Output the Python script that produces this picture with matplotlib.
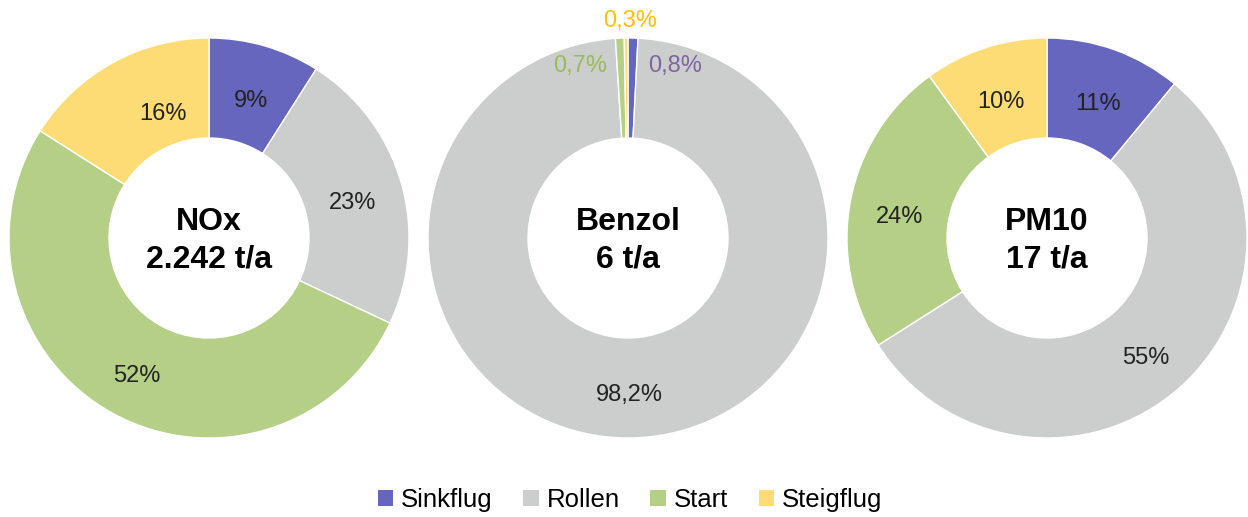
import matplotlib
matplotlib.use("Agg")
import matplotlib.pyplot as plt
from matplotlib.patches import Patch
import numpy as np

plt.rcParams['font.family'] = ['Liberation Sans', 'DejaVu Sans']

categories = ["Sinkflug", "Rollen", "Start", "Steigflug"]
colors = ["#6766BE", "#CCCECE", "#B5CF86", "#FEDC75"]

titles = ["NOx\n2.242 t/a", "Benzol\n6 t/a", "PM10\n17 t/a"]
nox = [9, 23, 52, 16]
benzol = [0.8, 98.2, 0.7, 0.3]
pm10 = [11, 55, 24, 10]
nox_labels = ["9%", "23%", "52%", "16%"]
benzol_labels = ["0,8%", "98,2%", "0,7%", "0,3%"]
pm10_labels = ["11%", "55%", "24%", "10%"]

W, H = 1248, 517
fig = plt.figure(figsize=(W / 100, H / 100), dpi=100)

centers = [209, 628, 1047]
R = 200
cy = 238

series = [nox, benzol, pm10]
labels = [nox_labels, benzol_labels, pm10_labels]
# small manual nudges (chart, slice) -> (dx, dy) in data units
nudge = {(0, 3): (0.13, 0.0)}

for i, (vals, labs) in enumerate(zip(series, labels)):
    cx = centers[i]
    ax = fig.add_axes([(cx - R) / W, (H - cy - R) / H, 2 * R / W, 2 * R / H])
    wedges, _ = ax.pie(vals, colors=colors, startangle=90, counterclock=False,
                       radius=1.0, wedgeprops=dict(width=0.5, edgecolor="white", linewidth=1))
    ax.set_xlim(-1, 1)
    ax.set_ylim(-1, 1)
    ax.set_aspect("equal")
    ax.axis("off")
    ax.text(0, -0.015, titles[i], ha="center", va="center", fontsize=23,
            fontweight="bold", linespacing=1.32)
    for j, w in enumerate(wedges):
        if i == 1 and j != 1:
            continue
        ang = np.deg2rad((w.theta1 + w.theta2) / 2)
        r = 0.75
        dx, dy = nudge.get((i, j), (0, 0))
        ax.text(r * np.cos(ang) + dx, r * np.sin(ang) - 0.035 + dy, labs[j],
                ha="center", va="center", fontsize=17, color="#222222")
    if i == 1:
        ax.text(0.01, 1.085, benzol_labels[3], ha="center", va="center",
                fontsize=17, color="#FFC000", clip_on=False)
        ax.text(-0.24, 0.86, benzol_labels[2], ha="center", va="center",
                fontsize=17, color="#9BBB59")
        ax.text(0.235, 0.86, benzol_labels[0], ha="center", va="center",
                fontsize=17, color="#8064A2")

handles = [Patch(facecolor=c, edgecolor="none") for c in colors]
fig.legend(handles, categories, loc="center", bbox_to_anchor=(630 / W, 1 - 500 / H),
           ncol=4, frameon=False, fontsize=18.5, handlelength=0.6, handleheight=0.6,
           handletextpad=0.3, columnspacing=1.2)

fig.savefig("out.png", dpi=100)
